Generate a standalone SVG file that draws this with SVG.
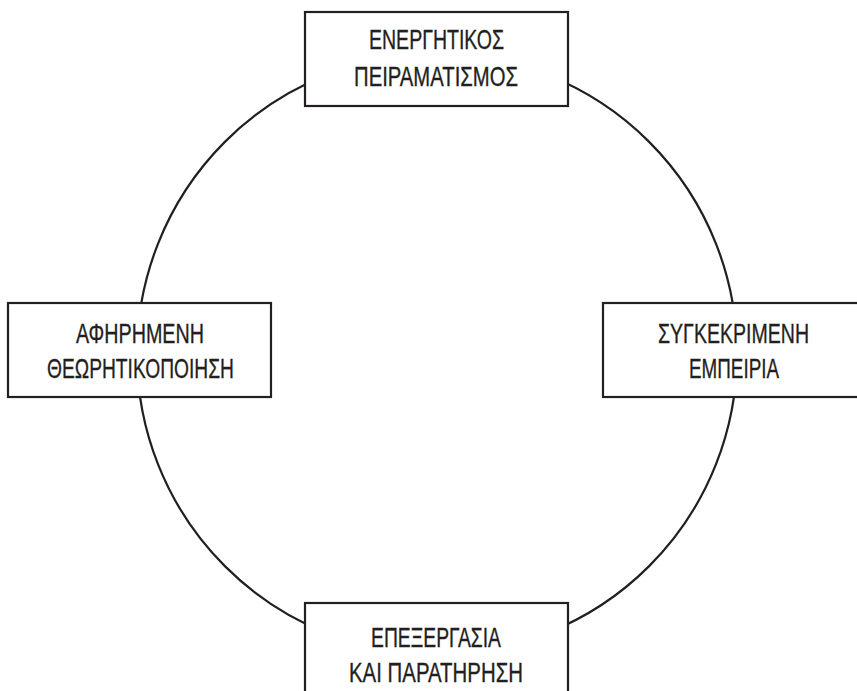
<svg xmlns="http://www.w3.org/2000/svg" width="857" height="691" viewBox="0 0 857 691">
  <style>
    .box { fill: #ffffff; stroke: #231f20; stroke-width: 2.2; }
    .ring { fill: none; stroke: #231f20; stroke-width: 2.2; }
    .lbl { font-family: "Liberation Sans", Arial, sans-serif; font-size: 28px; fill: #231f20; stroke: #231f20; stroke-width: 0.35; text-anchor: middle; }
  </style>
  <rect width="857" height="691" fill="#ffffff"/>
  <g id="connectors">
    <circle class="ring" cx="437" cy="354" r="300"/>
  </g>
  <g id="node-top">
    <rect class="box" x="305" y="12" width="263" height="94"/>
    <text class="lbl" x="436.5" y="49" textLength="135" lengthAdjust="spacingAndGlyphs">ΕΝΕΡΓΗΤΙΚΟΣ</text>
    <text class="lbl" x="436" y="86" textLength="164" lengthAdjust="spacingAndGlyphs">ΠΕΙΡΑΜΑΤΙΣΜΟΣ</text>
  </g>
  <g id="node-left">
    <rect class="box" x="8" y="303" width="263" height="94"/>
    <text class="lbl" x="140" y="343" textLength="128" lengthAdjust="spacingAndGlyphs">ΑΦΗΡΗΜΕΝΗ</text>
    <text class="lbl" x="140.5" y="378" textLength="187" lengthAdjust="spacingAndGlyphs">ΘΕΩΡΗΤΙΚΟΠΟΙΗΣΗ</text>
  </g>
  <g id="node-right">
    <rect class="box" x="603" y="303" width="256" height="94"/>
    <text class="lbl" x="733.5" y="343" textLength="151" lengthAdjust="spacingAndGlyphs">ΣΥΓΚΕΚΡΙΜΕΝΗ</text>
    <text class="lbl" x="734" y="378" textLength="90" lengthAdjust="spacingAndGlyphs">ΕΜΠΕΙΡΙΑ</text>
  </g>
  <g id="node-bottom">
    <rect class="box" x="305" y="603" width="263" height="90"/>
    <text class="lbl" x="436" y="647" textLength="130" lengthAdjust="spacingAndGlyphs">ΕΠΕΞΕΡΓΑΣΙΑ</text>
    <text class="lbl" x="436" y="682" textLength="174" lengthAdjust="spacingAndGlyphs">ΚΑΙ ΠΑΡΑΤΗΡΗΣΗ</text>
  </g>
</svg>
